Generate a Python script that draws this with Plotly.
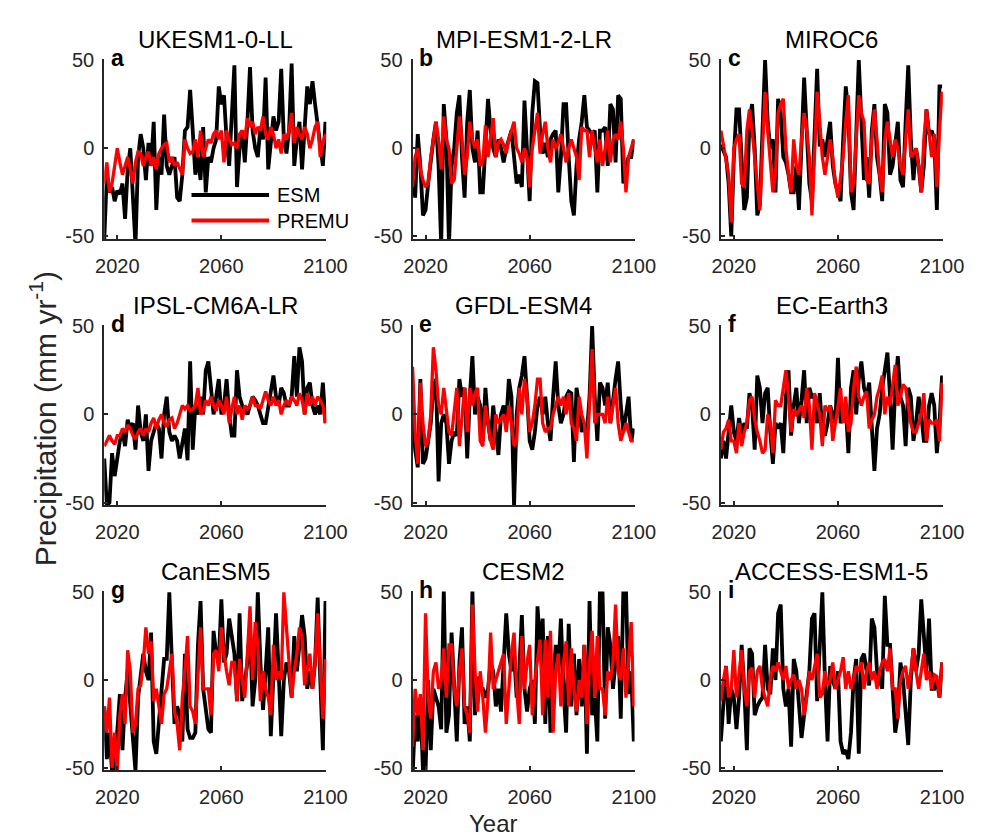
import plotly.graph_objects as go

# ---------------- data ----------------
start_year = 2015
models = ["UKESM1-0-LL", "MPI-ESM1-2-LR", "MIROC6", "IPSL-CM6A-LR", "GFDL-ESM4",
          "EC-Earth3", "CanESM5", "CESM2", "ACCESS-ESM1-5"]
letters = ["a", "b", "c", "d", "e", "f", "g", "h", "i"]
xticks = [2020, 2060, 2100]
yticks = [-50, 0, 50]
ytick_text = ["-50", "0", "50"]
series_names = ["ESM", "PREMU"]

esm_a = [-52, -15, -25, -22, -30, -24, -26, -20, -40, -12,
         0, -25, -55, -5, 8, 0, -18, 3, -10, 15,
         -35, -5, -15, 19, -10, -15, -10, -5, -28, -30,
         -15, 10, 12, 33, 10, -15, -5, -18, 12, -25,
         -5, -8, 0, 5, 35, 25, 30, 5, -10, 20,
         47, -22, 0, 10, -8, 15, 46, 10, 0, -5,
         12, 5, 40, -12, 5, 18, 10, 15, 45, 5,
         -3, 10, 48, -10, 5, 15, -12, 10, 35, 25,
         38, 25, 12, 0, -10, 15]
premu_a = [-20, -8, -25, -20, -10, 0, -8, -15, -10, -5,
           -12, -20, -8, -2, -3, -10, -5, -2, -10, -5,
           -12, -3, 0, 2, 3, -8, -5, -10, -8, -12,
           -15, 5, 0, -3, -2, 5, -5, 10, -5, 0,
           5, 3, 8, 10, 5, 10, -8, 10, 5, 2,
           3, 0, 8, 10, 5, 17, 12, 15, 8, 12,
           10, 18, 8, 5, 12, 8, 0, 5, -3, 8,
           5, 10, 20, 3, 12, 8, 5, 12, 8, 0,
           5, 12, 15, -5, 3, 8]

esm_b = [-10, -28, 8, -10, -38, -35, -20, -5, 5, 15,
         -10, -55, 25, 5, -55, -10, 0, 20, 30, -5,
         -28, 15, 33, 0, -8, 10, -25, -25, 0, 28,
         10, 0, -5, 5, 0, -8, 0, 5, 10, -5,
         -20, -15, -22, 27, 0, -30, 20, 38, 37, 10,
         -3, 3, -5, 5, 8, 10, -25, -5, 25, 25,
         -5, -30, -38, -10, 5, 15, 30, 12, 10, 8,
         10, -25, 10, 10, 12, -10, 25, 22, -8, 30,
         28, -20, -10, -5, -5, 5]
premu_b = [-22, -5, 0, -12, -18, -22, -20, -5, 5, 15,
           5, -12, 18, 5, 0, -20, -18, 0, 18, 5,
           -15, -5, 15, 5, 0, 5, -10, -8, 13, -5,
           5, 17, -5, 3, 5, 2, -3, 5, 10, 15,
           0, -3, -8, 0, -5, -22, 0, 10, 20, -3,
           8, 15, 0, -8, 5, 0, 3, 8, 0, -8,
           0, 5, 0, -5, -18, 12, 10, 10, -5, 10,
           0, -8, 5, -10, 0, 10, -8, 5, 8, 5,
           15, 0, -25, -5, 0, 5]

esm_c = [2, -2, -5, -20, -50, -5, 22, 22, -10, -35,
         -28, 15, 25, 0, -38, -32, 10, 50, 15, 0,
         5, -25, 28, 20, -5, -8, -15, -25, -25, -10,
         -35, 0, 40, 10, -20, -30, 10, 45, 1, 5,
         -5, 5, 15, -10, -20, -25, -30, 5, 35, 20,
         -25, -35, 10, 50, 15, -18, -5, -28, 10, 25,
         -5, -15, -30, 25, 20, -15, -10, 5, 15, -18,
         -22, 15, 47, 5, -18, 0, -10, -25, -10, 22,
         8, 10, 5, -35, 35, 35]
premu_c = [10, 2, -5, -15, -42, 0, 5, 8, -20, -22,
           10, 22, 10, -5, -20, -35, 0, 32, 10, -8,
           -25, -15, 20, 25, 28, 0, -15, -25, 5, -10,
           -15, 5, 20, 10, -5, -38, 0, 32, 15, -5,
           -15, -5, 5, -5, -20, -28, -15, -5, 15, 30,
           -25, -20, 5, 30, 20, 15, -18, -20, 5, 22,
           5, -15, -25, 5, 15, 5, -5, 5, 0, -10,
           -15, 5, 22, -5, -3, 0, -10, -25, 5, 22,
           8, -5, 8, -22, 10, 32]

esm_d = [-25, -52, -50, -22, -35, -25, -15, -10, -18, -3,
         -8, -5, -20, 5, -10, -15, 0, -32, -15, -10,
         -5, -8, -25, 0, 10, -10, -15, -12, -15, -25,
         -15, -8, -26, 30, -20, 5, 0, 10, 0, 25,
         30, 15, 0, 10, 20, 0, 5, 20, 0, -12,
         -12, 25, 10, 5, 2, 0, 5, 10, 8, 5,
         0, -5, -5, 5, 15, 22, 10, 5, 15, 12,
         5, 5, 10, 33, 10, 38, 30, 0, 15, 18,
         5, 0, 5, 0, 18, -5]
premu_d = [-18, -15, -12, -15, -17, -12, -12, -8, -10, -6,
           -8, -12, -14, -10, -8, -12, -8, -10, -5, -2,
           -8, -3, 0, -5, -7, -3, -2, -8, -5, 0,
           5, 3, 5, 2, 3, 5, 15, 0, 2, 8,
           5, 10, 5, 2, 8, 5, 0, 10, -5, 3,
           10, 0, 5, -3, 5, 3, 5, 10, 5, 5,
           3, 8, 13, 8, 5, 10, 5, 8, 0, 5,
           8, 5, 10, 8, 5, 12, 8, 0, 12, 5,
           10, 5, 10, 8, 5, -5]

esm_e = [5, -20, -30, 20, -28, -25, -15, -5, 15, 20,
         -38, -5, 0, -5, -28, -15, -10, -12, 20, 10,
         15, -25, 10, 33, 0, 10, 5, -15, 15, -5,
         -15, 5, -10, -23, 0, 5, -5, 20, 10, -52,
         0, 15, 22, 33, 10, -15, -20, -10, 5, 10,
         0, 10, -5, -15, 10, 30, 5, -5, 0, 10,
         13, 12, -27, 15, 5, -10, -5, -10, 10, 50,
         10, -15, 18, 15, 5, 18, -5, 10, 20, 30,
         5, -10, 0, 10, -15, -8]
premu_e = [27, -10, -28, 18, -5, -18, -15, 0, 38, 25,
           5, 0, 15, 2, -10, -12, 0, 15, -18, 0,
           15, -10, 15, 5, 12, 15, -15, -18, 5, -5,
           -15, -20, 0, -5, -2, 0, -10, 5, -5, -18,
           -15, 15, 0, 20, 10, -10, -5, 5, 20, 20,
           -5, -10, -8, -8, 0, 5, 10, 5, 10, 0,
           12, -5, -8, -15, 10, 0, -5, -25, 10, 37,
           -5, 0, 0, 0, -5, 10, -5, 5, 15, -5,
           -15, -10, -5, -10, -15, -15]

esm_f = [-25, -15, -25, -8, 5, -10, -15, -2, -12, -5,
         -8, 12, 5, -20, 22, 15, -5, 12, 15, -10,
         -28, -5, -8, -5, -22, 10, 25, -12, 5, 15,
         -5, 8, 25, -5, 15, 10, 10, -5, 12, -10,
         -12, -5, 5, 0, -5, 32, -5, 0, 5, -22,
         15, 25, 0, 20, 30, 15, 10, 18, -10, -32,
         -8, 0, 15, 25, 35, 10, -20, 15, 33, 10,
         5, -18, 15, 10, -15, -5, 10, 0, -15, -15,
         5, 12, 5, -22, -5, 22]
premu_f = [-20, -10, -8, -3, -15, -15, -22, -5, -18, -10,
           -5, 8, 10, -3, -10, -15, -22, -20, 0, -5,
           -22, 8, 5, 5, 15, 25, 10, -10, 3, 0,
           2, 5, -2, 15, 5, -20, 12, 5, 0, -18,
           5, 2, 5, -15, -5, 5, 15, -5, 10, -10,
           -5, 15, 27, 10, 5, 10, 13, -8, -3, 0,
           10, 15, 22, 0, 10, 5, 15, 28, 5, 10,
           17, 15, 5, -5, -10, -10, -5, 0, 12, -15,
           -3, -5, -5, -3, -15, 18]

esm_g = [-15, -45, -30, -52, -50, -25, -8, -40, -10, 5,
         -15, -30, -52, -10, 5, 15, 5, 0, 27, -35,
         -42, -25, -10, 12, 12, 50, 10, -25, -15, -20,
         -35, 15, -28, -33, -33, -30, 20, 45, -5, -15,
         -28, -30, 28, 15, 10, 46, 10, 15, 35, 25,
         15, -12, 38, -12, 0, 10, 30, -15, 0, 50,
         10, -17, 5, 30, -32, 10, 38, 5, -32, 0,
         10, 5, -10, 25, 5, 20, 37, 25, -5, 5,
         -5, 10, 47, 0, -40, 45]
premu_g = [-15, -30, -10, -50, -30, -52, -20, -8, -25, 17,
           5, -30, -25, -5, -3, 10, 30, 15, 22, -12,
           -5, -15, -25, -8, -5, 5, 15, -18, -25, -40,
           -10, 5, 25, -15, -18, -25, 5, 30, -5, -5,
           -5, -20, 15, 17, 5, 30, 15, 5, -3, 10,
           10, -12, 12, 0, -10, 15, 42, 0, 33, 20,
           -12, 5, -5, -10, -20, 20, 0, 5, 0, 50,
           30, 5, -10, 5, 15, 30, 25, -3, 5, 15,
           -5, 10, 38, 5, -22, 12]

esm_h = [-55, -20, -35, -10, -52, -52, 0, -40, -5, -10,
         -15, -28, 52, -30, -20, 27, 0, -35, 10, 30,
         -25, -15, -35, 52, -20, 2, -5, -5, -10, -5,
         10, 5, -15, -5, -18, 10, 38, 15, 5, 15,
         -10, 5, 37, -5, -18, -5, 0, -25, 42, 20,
         35, -25, 25, -30, -5, 20, 5, 35, -5, -30,
         32, -15, 15, -20, 12, -15, 20, -42, 45, -20,
         -10, -35, 52, 50, -22, 30, 20, -5, 10, 25,
         -22, 52, 52, -8, 5, -35]
premu_h = [-38, -5, -20, -8, -40, 38, -10, -22, 5, 10,
           -5, 0, 18, -10, 20, 20, -5, -15, 5, 18,
           -15, -20, -30, 43, 5, -18, 5, -10, -30, -10,
           27, -5, 0, 5, 10, 15, -25, -5, 15, 27,
           -5, -25, 25, -5, 10, 20, -20, 0, 10, 23,
           -20, 23, -10, 28, -30, 5, 15, -15, 10, 22,
           -15, 18, -5, -18, 0, -10, 20, -25, 10, 28,
           -10, 25, -5, -5, -20, 5, 0, 10, 43, 5,
           0, 18, -10, 10, 33, -15]

esm_i = [-35, -10, 8, -25, -5, -10, -28, -10, 20, -5,
         -40, 18, 15, -20, -15, -12, -10, 20, -5, -8,
         18, 0, 38, 43, -5, -15, -5, -38, 12, 5,
         -15, -33, -20, -5, 5, 35, 38, -12, 20, 50,
         0, -35, 8, 0, -5, 5, -35, -42, -40, -45,
         -30, 0, 12, -42, 12, 15, 5, -3, 35, 30,
         5, 0, -5, 48, 20, 20, -10, -30, -20, 10,
         0, -20, -37, 0, 18, 5, 15, 46, 25, 5,
         35, -5, -5, 0, -10, 10]
premu_i = [-12, 0, 8, -10, -5, 17, -10, 5, 17, -5,
           -15, 5, 7, -10, 5, 8, -5, -10, -15, 0,
           8, 5, 10, 5, 0, 8, -5, 0, 3, -5,
           0, -5, -20, -10, 5, 0, 8, 15, -10, -8,
           5, -3, 0, 10, -5, 0, 5, 13, -5, 5,
           -5, 0, 8, 5, 10, -5, 5, 10, 0, 5,
           -5, 5, 10, 12, 5, 18, -5, -5, -22, 0,
           5, 8, -5, 5, 18, 5, -5, 5, 15, 0,
           5, -5, 3, 2, -10, 10]

esm_all = [esm_a, esm_b, esm_c, esm_d, esm_e, esm_f, esm_g, esm_h, esm_i]
premu_all = [premu_a, premu_b, premu_c, premu_d, premu_e, premu_f, premu_g, premu_h, premu_i]

# ---------------- layout geometry (pixels) ----------------
W, H = 983, 836
col_left = [90, 408, 726]
col_right = [319, 637, 955]
row_top = [42, 314, 586]
row_bot = [226, 498, 769]
FONT = "Liberation Sans, Arial, sans-serif"
AX = "#262626"

fig = go.Figure()
annotations = []
shapes = []

for k in range(9):
    r, c = divmod(k, 3)
    sfx = "" if k == 0 else str(k + 1)
    xa, ya = "x" + sfx, "y" + sfx
    esm, premu = esm_all[k], premu_all[k]
    fig.add_trace(go.Scatter(x=[start_year + i for i in range(len(esm))], y=esm,
                             mode="lines", line=dict(color="black", width=3.8),
                             name=series_names[0], showlegend=False, xaxis=xa, yaxis=ya))
    fig.add_trace(go.Scatter(x=[start_year + i for i in range(len(premu))], y=premu,
                             mode="lines", line=dict(color="#ff0000", width=3.3),
                             name=series_names[1], showlegend=False, xaxis=xa, yaxis=ya))
    x0, x1 = col_left[c] / W, col_right[c] / W
    y0, y1 = 1 - row_bot[r] / H, 1 - row_top[r] / H
    fig.layout["xaxis" + sfx] = dict(
        domain=[x0, x1], anchor=ya, range=[2015, 2100.3], tickvals=xticks,
        ticks="inside", ticklen=4, tickwidth=1.5, tickcolor=AX,
        showline=True, linecolor=AX, linewidth=2, showgrid=False, zeroline=False,
        tickfont=dict(family=FONT, size=20, color=AX), ticklabelstandoff=8)
    fig.layout["yaxis" + sfx] = dict(
        domain=[y0, y1], anchor=xa, range=[-51.5, 50.5], tickvals=yticks,
        ticktext=ytick_text, ticks="inside", ticklen=4, tickwidth=1.5, tickcolor=AX,
        showline=True, linecolor=AX, linewidth=2, showgrid=False, zeroline=False,
        tickfont=dict(family=FONT, size=20, color=AX), ticklabelstandoff=4)
    # title
    annotations.append(dict(text=models[k], xref="paper", yref="paper",
                             x=(x0 + x1) / 2, y=1 - (row_top[r] - 20) / H,
                             xanchor="center", yanchor="middle", showarrow=False,
                             font=dict(family=FONT, size=24, color="black")))
    # panel letter
    annotations.append(dict(text="<b>%s</b>" % letters[k], xref="paper", yref="paper",
                             x=(col_left[c] + 5) / W, y=1 - (row_top[r] - 1) / H,
                             xanchor="left", yanchor="middle", showarrow=False,
                             font=dict(family=FONT, size=23, color="black")))

# legend (panel a)
leg_y = [181, 207]
leg_col = ["black", "#ff0000"]
for i in range(2):
    shapes.append(dict(type="line", xref="paper", yref="paper",
                       x0=180 / W, x1=260 / W, y0=1 - leg_y[i] / H, y1=1 - leg_y[i] / H,
                       line=dict(color=leg_col[i], width=4)))
    annotations.append(dict(text=series_names[i], xref="paper", yref="paper",
                             x=266 / W, y=1 - leg_y[i] / H, xanchor="left", yanchor="middle",
                             showarrow=False, font=dict(family=FONT, size=20, color="black")))

# axis labels
annotations.append(dict(text="Precipitation (mm yr<sup>-1</sup>)", xref="paper", yref="paper",
                         x=27 / W, y=1 - 410 / H, textangle=-90, xanchor="center",
                         yanchor="middle", showarrow=False,
                         font=dict(family=FONT, size=30, color=AX)))
annotations.append(dict(text="Year", xref="paper", yref="paper",
                         x=491 / W, y=1 - 823 / H, xanchor="center", yanchor="middle",
                         showarrow=False, font=dict(family=FONT, size=24, color=AX)))

fig.update_layout(width=W, height=H, margin=dict(l=0, r=0, t=0, b=0),
                  paper_bgcolor="white", plot_bgcolor="white",
                  annotations=annotations, shapes=shapes, showlegend=False)

fig.write_html("out.html")
